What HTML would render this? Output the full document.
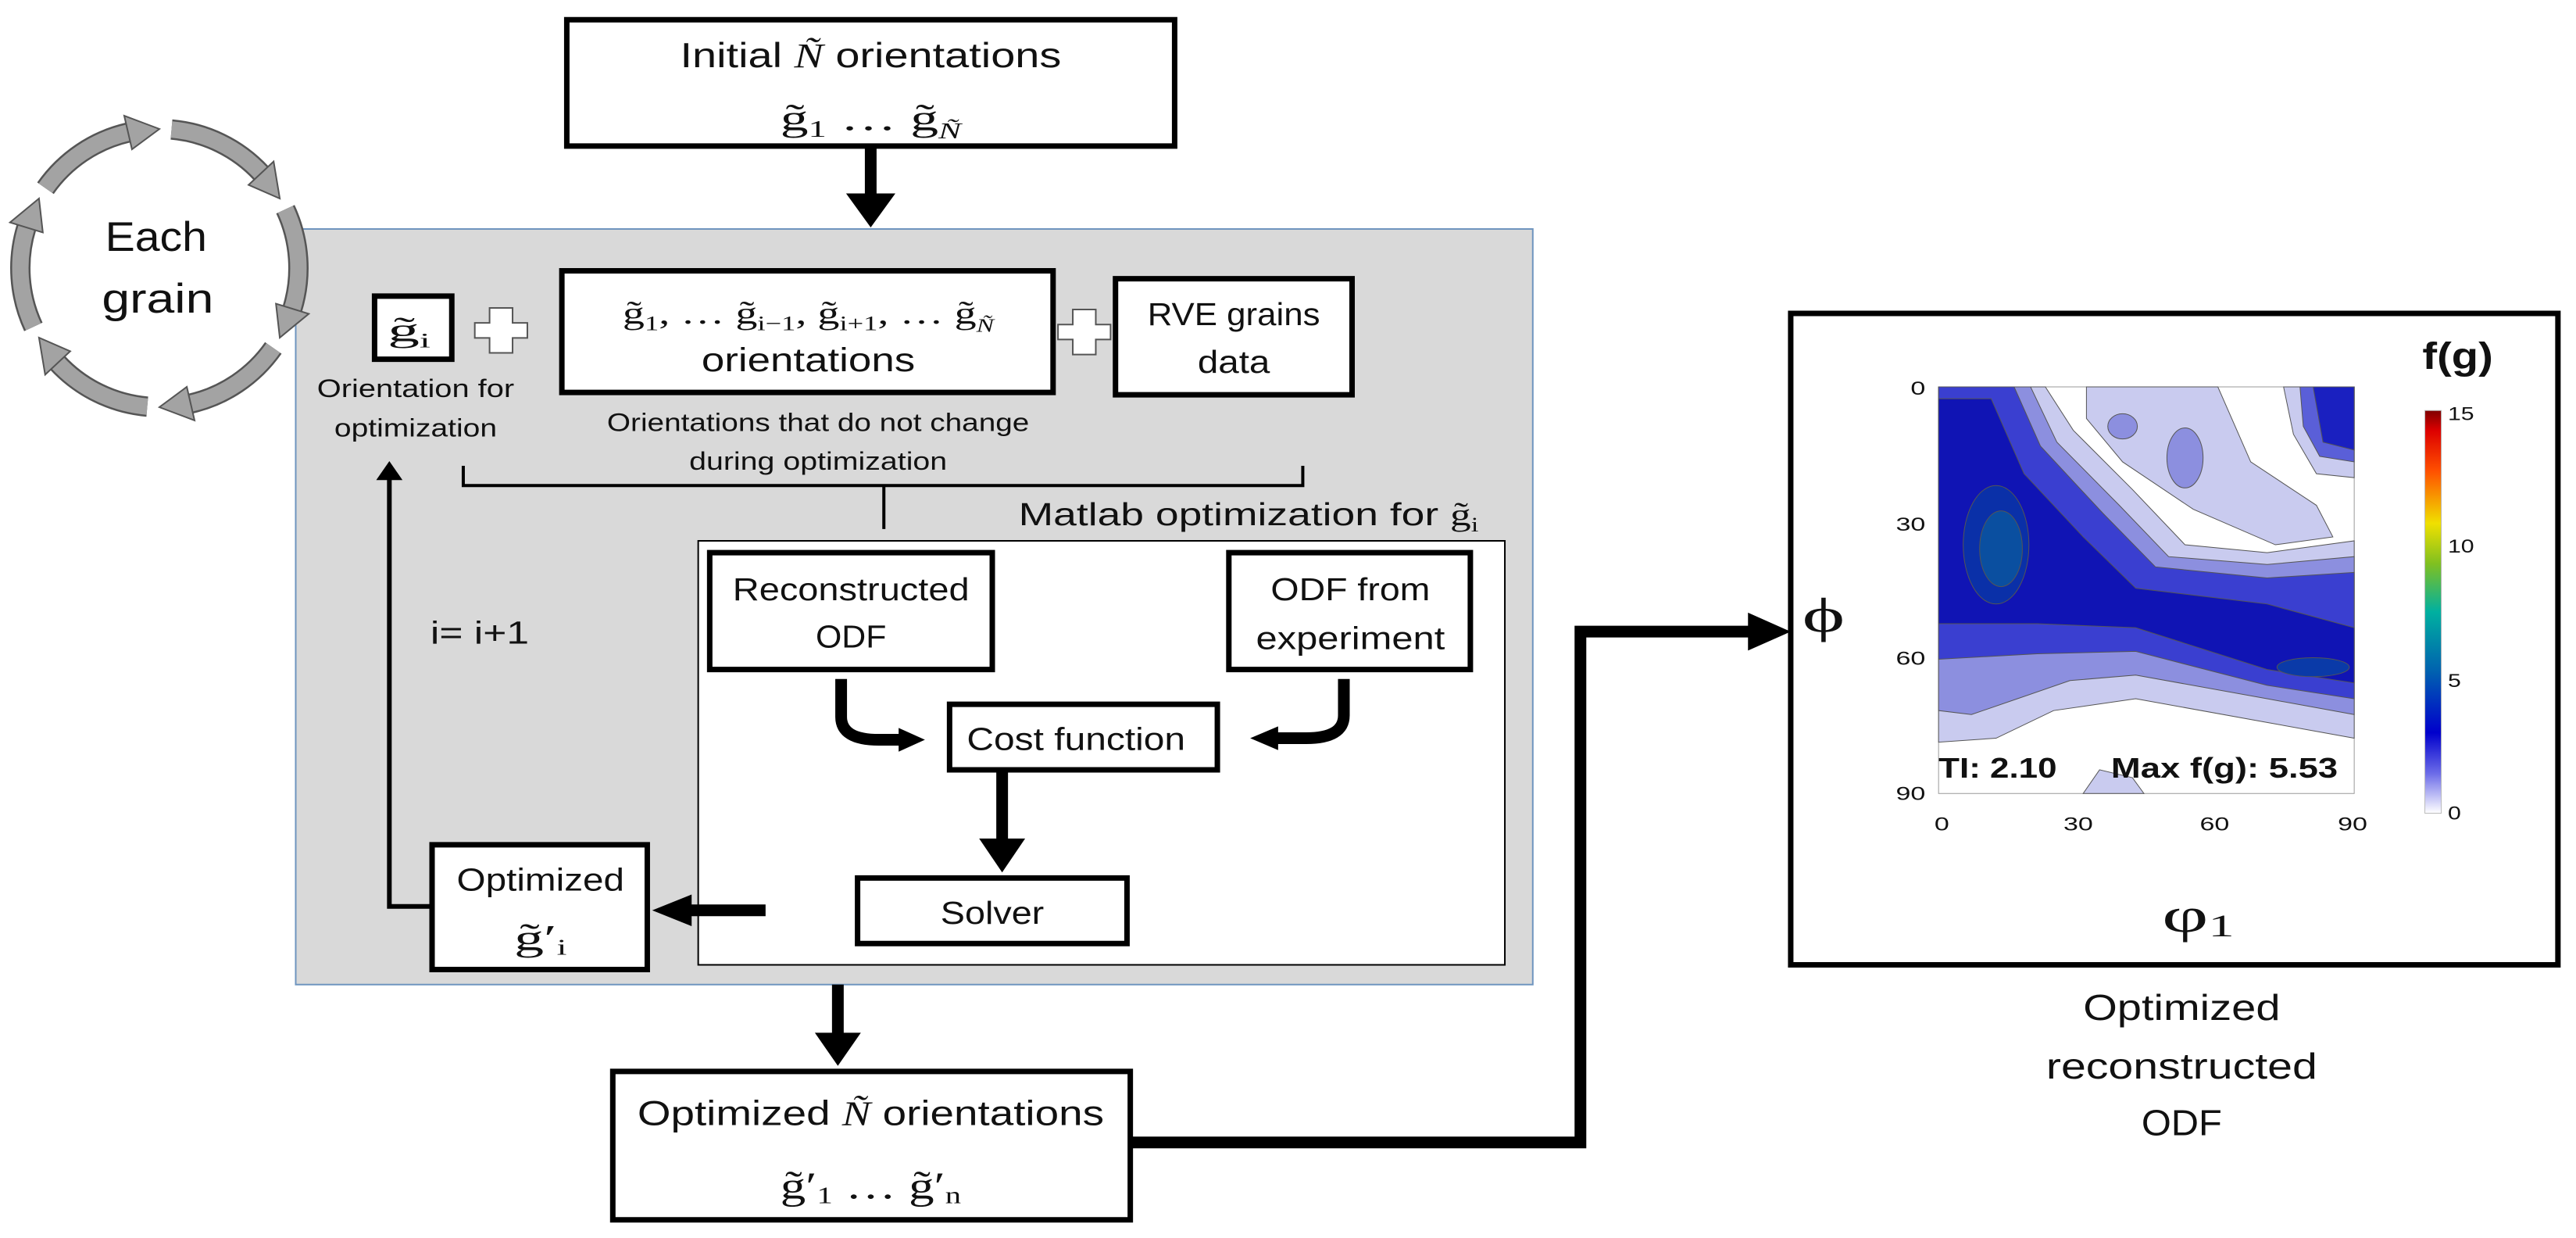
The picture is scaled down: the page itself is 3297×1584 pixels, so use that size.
<!DOCTYPE html>
<html><head><meta charset="utf-8"><style>
html,body{margin:0;padding:0;background:#fff;}
body{width:3297px;height:1584px;overflow:hidden;position:relative;}
svg{position:absolute;left:0;top:0;}
text{font-family:"Liberation Sans",sans-serif;fill:#111;}
.s{font-family:"Liberation Serif",serif;}
</style></head><body>
<svg width="3297" height="1584" viewBox="0 0 1568 1568" preserveAspectRatio="none">
<defs>
<linearGradient id="cb" x1="0" y1="1" x2="0" y2="0">
<stop offset="0" stop-color="#ffffff"/>
<stop offset="0.1" stop-color="#6a6ae8"/>
<stop offset="0.2" stop-color="#0000cc"/>
<stop offset="0.35" stop-color="#0060b0"/>
<stop offset="0.5" stop-color="#00b0a0"/>
<stop offset="0.62" stop-color="#80c020"/>
<stop offset="0.72" stop-color="#f0e000"/>
<stop offset="0.85" stop-color="#ff5000"/>
<stop offset="0.95" stop-color="#dd0000"/>
<stop offset="1" stop-color="#800000"/>
</linearGradient>
</defs>
<g fill="none" stroke="#000" vector-effect="non-scaling-stroke">
<!-- gray panel -->
<rect x="180" y="290" width="753" height="957" fill="#d9d9d9" stroke="#6f95bf" stroke-width="2" vector-effect="non-scaling-stroke"/>
<rect x="425" y="685" width="491" height="537" fill="#fff" stroke="#000" stroke-width="2" vector-effect="non-scaling-stroke"/>
<!-- boxes -->
<g fill="#fff" stroke="#000" stroke-width="7">
<rect x="345" y="25" width="370" height="160" vector-effect="non-scaling-stroke"/>
<rect x="228" y="375" width="47" height="80" vector-effect="non-scaling-stroke"/>
<rect x="342" y="343" width="299" height="154" vector-effect="non-scaling-stroke"/>
<rect x="679" y="353" width="144" height="147" vector-effect="non-scaling-stroke"/>
<rect x="432" y="700" width="172" height="148" vector-effect="non-scaling-stroke"/>
<rect x="748" y="700" width="147" height="148" vector-effect="non-scaling-stroke"/>
<rect x="578" y="892" width="163" height="83" vector-effect="non-scaling-stroke"/>
<rect x="522" y="1112" width="164" height="83" vector-effect="non-scaling-stroke"/>
<rect x="263" y="1070" width="131" height="158" vector-effect="non-scaling-stroke"/>
<rect x="373" y="1357" width="315" height="188" vector-effect="non-scaling-stroke"/>
<rect x="1090" y="397" width="467" height="825" vector-effect="non-scaling-stroke"/>
</g>
<!-- brace -->
<path d="M282,590 L282,615 L793,615 L793,590 M538,615 L538,670" stroke-width="4" vector-effect="non-scaling-stroke"/>
<!-- thick connectors -->
<g stroke-width="15" stroke-linejoin="miter">
<path d="M530,185 L530,250" vector-effect="non-scaling-stroke"/>
<path d="M610,975 L610,1066" vector-effect="non-scaling-stroke"/>
<path d="M510,1247 L510,1312" vector-effect="non-scaling-stroke"/>
<path d="M466,1153 L418,1153" vector-effect="non-scaling-stroke"/>
<path d="M688,1447 L962,1447 L962,800 L1068,800" vector-effect="non-scaling-stroke"/>
<path d="M512,860 L512,908 Q512,937 535,937 L550,937" vector-effect="non-scaling-stroke"/>
<path d="M818,860 L818,906 Q818,935 795,935 L776,935" vector-effect="non-scaling-stroke"/>
</g>
<path d="M263,1148 L237,1148 L237,602" stroke-width="6" vector-effect="non-scaling-stroke"/>
</g>
<g fill="#000">
<polygon points="515,245 545,245 530,288"/>
<polygon points="596,1062 624,1062 610,1105"/>
<polygon points="496,1308 524,1308 510,1350"/>
<polygon points="421,1133 421,1173 397,1153"/>
<polygon points="1064,776 1064,824 1090,800"/>
<polygon points="547,922 547,952 563,937"/>
<polygon points="778,920 778,950 761,935"/>
<polygon points="229,608 245,608 237,584"/>
</g>
<!-- plus signs -->
<g fill="#fff" stroke="#555" stroke-width="2">
<polygon points="298,390 312,390 312,409 321,409 321,428 312,428 312,447 298,447 298,428 289,428 289,409 298,409" vector-effect="non-scaling-stroke"/>
<polygon points="653,392 667,392 667,411 676,411 676,430 667,430 667,449 653,449 653,430 644,430 644,411 653,411" vector-effect="non-scaling-stroke"/>
</g>
<!-- contour plot -->
<g stroke="#555" stroke-width="1" vector-effect="non-scaling-stroke">
<rect x="1180" y="490" width="253" height="515" fill="#fff" stroke="#999" vector-effect="non-scaling-stroke"/>
<path d="M1180,490 L1245,490 L1262,545 L1298,620 L1330,690 L1380,700 L1433,685 L1433,935 L1380,915 L1300,885 L1250,900 L1215,935 L1180,940 Z" fill="#c9cbef" vector-effect="non-scaling-stroke"/>
<path d="M1270,490 L1350,490 L1370,585 L1410,640 L1420,680 L1385,690 L1335,645 L1292,585 L1270,530 Z" fill="#c9cbef" vector-effect="non-scaling-stroke"/>
<path d="M1390,490 L1433,490 L1433,605 L1410,600 L1396,550 Z" fill="#c9cbef" vector-effect="non-scaling-stroke"/>
<path d="M1268,1005 L1278,975 L1298,985 L1305,1005 Z" fill="#c9cbef" vector-effect="non-scaling-stroke"/>
<ellipse cx="1292" cy="540" rx="9" ry="16" fill="#8c8fdf" vector-effect="non-scaling-stroke"/>
<ellipse cx="1330" cy="580" rx="11" ry="38" fill="#8c8fdf" vector-effect="non-scaling-stroke"/>
<path d="M1180,490 L1236,490 L1252,560 L1290,640 L1320,705 L1380,715 L1433,705 L1433,905 L1380,885 L1300,855 L1260,862 L1228,885 L1200,905 L1180,900 Z" fill="#8c8fdf" vector-effect="non-scaling-stroke"/>
<path d="M1400,490 L1433,490 L1433,585 L1412,578 L1402,540 Z" fill="#5a5fd8" vector-effect="non-scaling-stroke"/>
<path d="M1180,490 L1226,490 L1242,565 L1280,650 L1312,718 L1380,732 L1433,725 L1433,885 L1380,868 L1300,825 L1240,828 L1180,835 Z" fill="#3a3fd0" vector-effect="non-scaling-stroke"/>
<path d="M1408,490 L1433,490 L1433,570 L1414,560 Z" fill="#1a20c0" vector-effect="non-scaling-stroke"/>
<path d="M1180,505 L1212,505 L1232,600 L1268,680 L1300,745 L1380,765 L1433,795 L1433,865 L1380,848 L1300,795 L1240,790 L1180,790 Z" fill="#1014b4" vector-effect="non-scaling-stroke"/>
<ellipse cx="1215" cy="690" rx="20" ry="75" fill="#0a30a8" vector-effect="non-scaling-stroke"/>
<ellipse cx="1218" cy="695" rx="13" ry="48" fill="#0a4fa0" vector-effect="non-scaling-stroke"/>
<ellipse cx="1408" cy="845" rx="22" ry="12" fill="#0a3aa8" vector-effect="non-scaling-stroke"/>
</g>
<rect x="1476" y="520" width="10" height="510" fill="url(#cb)" stroke="#bbb" stroke-width="1" vector-effect="non-scaling-stroke"/>
<!-- circle arrows drawn later in separate svg -->
<!-- texts -->
<g font-size="44" text-anchor="middle">
<text x="530" y="85" textLength="232" lengthAdjust="spacingAndGlyphs">Initial  <tspan class="s" font-style="italic">Ñ</tspan> orientations</text>
<text x="530" y="165" class="s" font-size="46" textLength="110" lengthAdjust="spacingAndGlyphs">g̃<tspan font-size="30" dy="8">1</tspan><tspan dy="-8"> … g̃</tspan><tspan font-size="28" dy="10" font-style="italic">Ñ</tspan></text>
<text x="95" y="318" font-size="52" textLength="62" lengthAdjust="spacingAndGlyphs">Each</text>
<text x="96" y="396" font-size="52" textLength="68" lengthAdjust="spacingAndGlyphs">grain</text>
<text x="249" y="432" class="s" font-size="42" textLength="26" lengthAdjust="spacingAndGlyphs">g̃<tspan font-size="26" dy="8">i</tspan></text>
<text x="492" y="410" class="s" font-size="40" textLength="226" lengthAdjust="spacingAndGlyphs">g̃<tspan font-size="26" dy="8">1</tspan><tspan dy="-8">, … g̃</tspan><tspan font-size="26" dy="8">i−1</tspan><tspan dy="-8">, g̃</tspan><tspan font-size="26" dy="8">i+1</tspan><tspan dy="-8">, … g̃</tspan><tspan font-size="24" dy="10" font-style="italic">Ñ</tspan></text>
<text x="492" y="470" font-size="42" textLength="130" lengthAdjust="spacingAndGlyphs">orientations</text>
<text x="751" y="412" font-size="40" textLength="105" lengthAdjust="spacingAndGlyphs">RVE grains</text>
<text x="751" y="472" font-size="40" textLength="44" lengthAdjust="spacingAndGlyphs">data</text>
<text x="253" y="503" font-size="32" textLength="120" lengthAdjust="spacingAndGlyphs">Orientation for</text>
<text x="253" y="553" font-size="32" textLength="99" lengthAdjust="spacingAndGlyphs">optimization</text>
<text x="498" y="546" font-size="32" textLength="257" lengthAdjust="spacingAndGlyphs">Orientations that do not change</text>
<text x="498" y="595" font-size="32" textLength="157" lengthAdjust="spacingAndGlyphs">during optimization</text>
<text x="518" y="760" font-size="40" textLength="144" lengthAdjust="spacingAndGlyphs">Reconstructed</text>
<text x="518" y="820" font-size="40" textLength="43" lengthAdjust="spacingAndGlyphs">ODF</text>
<text x="822" y="760" font-size="40" textLength="97" lengthAdjust="spacingAndGlyphs">ODF from</text>
<text x="822" y="822" font-size="40" textLength="115" lengthAdjust="spacingAndGlyphs">experiment</text>
<text x="655" y="950" font-size="40" textLength="133" lengthAdjust="spacingAndGlyphs">Cost function</text>
<text x="604" y="1170" font-size="40" textLength="63" lengthAdjust="spacingAndGlyphs">Solver</text>
<text x="329" y="1128" font-size="40" textLength="102" lengthAdjust="spacingAndGlyphs">Optimized</text>
<text x="329" y="1203" class="s" font-size="46" textLength="32" lengthAdjust="spacingAndGlyphs">g̃′<tspan font-size="28" dy="6">i</tspan></text>
<text x="292" y="815" font-size="40" textLength="60" lengthAdjust="spacingAndGlyphs">i= i+1</text>
<text x="530" y="1425" font-size="44" textLength="284" lengthAdjust="spacingAndGlyphs">Optimized  <tspan class="s" font-style="italic">Ñ</tspan> orientations</text>
<text x="530" y="1518" class="s" font-size="48" textLength="110" lengthAdjust="spacingAndGlyphs">g̃′<tspan font-size="30" dy="6">1</tspan><tspan dy="-6"> … g̃′</tspan><tspan font-size="30" dy="6">n</tspan></text>
<text x="1328" y="1292" font-size="46" textLength="120" lengthAdjust="spacingAndGlyphs">Optimized</text>
<text x="1328" y="1366" font-size="46" textLength="165" lengthAdjust="spacingAndGlyphs">reconstructed</text>
<text x="1328" y="1438" font-size="46" textLength="49" lengthAdjust="spacingAndGlyphs">ODF</text>
<text x="1110" y="800" class="s" font-size="62" textLength="26" lengthAdjust="spacingAndGlyphs">ϕ</text>
<text x="1338" y="1180" class="s" font-size="62" textLength="44" lengthAdjust="spacingAndGlyphs">φ<tspan font-size="40" dy="6">1</tspan></text>
<text x="1496" y="467" font-size="48" font-weight="bold" textLength="43" lengthAdjust="spacingAndGlyphs">f(g)</text>
</g>
<text x="900" y="665" font-size="40" text-anchor="end" textLength="280" lengthAdjust="spacingAndGlyphs">Matlab optimization for <tspan class="s">g̃</tspan><tspan class="s" font-size="26" dy="8">i</tspan></text>
<text x="1180" y="985" font-size="36" font-weight="bold" textLength="72" lengthAdjust="spacingAndGlyphs">TI: 2.10</text>
<text x="1285" y="985" font-size="36" font-weight="bold" textLength="138" lengthAdjust="spacingAndGlyphs">Max f(g): 5.53</text>
<g font-size="24" fill="#333">
<text x="1172" y="500" text-anchor="end" textLength="9" lengthAdjust="spacingAndGlyphs">0</text>
<text x="1172" y="672" text-anchor="end" textLength="18" lengthAdjust="spacingAndGlyphs">30</text>
<text x="1172" y="842" text-anchor="end" textLength="18" lengthAdjust="spacingAndGlyphs">60</text>
<text x="1172" y="1013" text-anchor="end" textLength="18" lengthAdjust="spacingAndGlyphs">90</text>
<text x="1182" y="1052" text-anchor="middle" textLength="9" lengthAdjust="spacingAndGlyphs">0</text>
<text x="1265" y="1052" text-anchor="middle" textLength="18" lengthAdjust="spacingAndGlyphs">30</text>
<text x="1348" y="1052" text-anchor="middle" textLength="18" lengthAdjust="spacingAndGlyphs">60</text>
<text x="1432" y="1052" text-anchor="middle" textLength="18" lengthAdjust="spacingAndGlyphs">90</text>
<text x="1490" y="532" textLength="16" lengthAdjust="spacingAndGlyphs">15</text>
<text x="1490" y="700" textLength="16" lengthAdjust="spacingAndGlyphs">10</text>
<text x="1490" y="870" textLength="8" lengthAdjust="spacingAndGlyphs">5</text>
<text x="1490" y="1038" textLength="8" lengthAdjust="spacingAndGlyphs">0</text>
</g>
</svg>
<svg width="420" height="560" viewBox="0 0 420 560" style="left:0;top:0">
<g fill="none" stroke-linecap="butt">
<g stroke="#555" stroke-width="26">
<path d="M58.2,240.8 A178,178 0 0 1 164,169.6"/>
<path d="M219.5,165.7 A178,178 0 0 1 334.2,221.6"/>
<path d="M365.3,267.8 A178,178 0 0 1 374.2,395"/>
<path d="M349.8,445.2 A178,178 0 0 1 244,516.4"/>
<path d="M188.5,520.3 A178,178 0 0 1 73.8,464.4"/>
<path d="M42.7,418.2 A178,178 0 0 1 33.8,291"/>
</g>
<g stroke="#a3a3a3" stroke-width="21">
<path d="M58.2,240.8 A178,178 0 0 1 164,169.6"/>
<path d="M219.5,165.7 A178,178 0 0 1 334.2,221.6"/>
<path d="M365.3,267.8 A178,178 0 0 1 374.2,395"/>
<path d="M349.8,445.2 A178,178 0 0 1 244,516.4"/>
<path d="M188.5,520.3 A178,178 0 0 1 73.8,464.4"/>
<path d="M42.7,418.2 A178,178 0 0 1 33.8,291"/>
</g>
</g>
<g fill="#a3a3a3" stroke="#555" stroke-width="2">
<polygon points="168.9,191 159,148.1 204,165"/>
<polygon points="318.1,236.6 350.2,206.6 358.1,254"/>
<polygon points="353.2,388.6 395.2,401.5 358.1,432"/>
<polygon points="239.1,495 249,537.9 204,521"/>
<polygon points="89.9,449.4 57.8,479.4 49.9,432"/>
<polygon points="54.8,297.4 12.8,284.6 49.9,254"/>
</g>
</svg>
</body></html>
